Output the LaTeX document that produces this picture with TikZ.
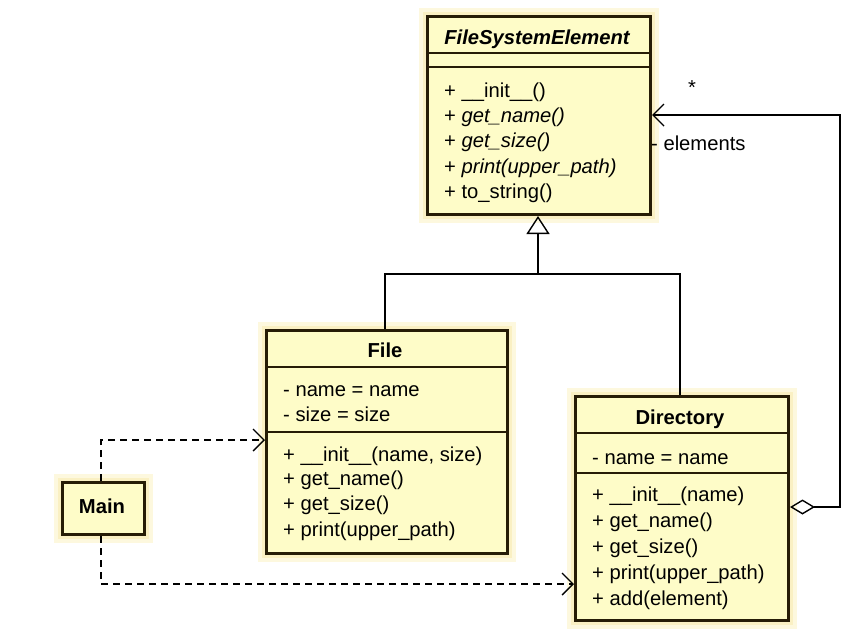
\documentclass[tikz,border=0pt]{standalone}
\usepackage{fontspec}
\setmainfont{Liberation Sans}
\usetikzlibrary{arrows.meta}
\definecolor{boxfill}{RGB}{254,252,200}
\definecolor{boxglow}{RGB}{253,248,222}
\definecolor{boxglowin}{RGB}{250,240,195}
\definecolor{boxline}{RGB}{38,28,6}
\tikzset{
  umlbox/.style={draw=boxline, line width=3pt, fill=boxfill, inner sep=0pt, anchor=north west,
    preaction={draw=boxglow, line width=17pt},
    preaction={draw=boxglowin, line width=9pt}},
  sepline/.style={draw=boxline, line width=1.4pt},
  member/.style={anchor=west, inner sep=0pt, text height=14pt, text depth=0pt, font=\fontsize{20.2pt}{22pt}\selectfont},
  title/.style={anchor=center, inner sep=0pt, text height=14pt, text depth=0pt, font=\fontsize{20.2pt}{22pt}\selectfont\bfseries},
  conn/.style={draw=black, line width=1.4pt},
  dep/.style={conn, dash pattern=on 7pt off 5pt, -{Straight Barb[length=11pt, width=22pt, line width=1.4pt]}},
  assoc/.style={conn, {Diamond[open, length=25pt, width=15pt, line width=1.4pt]}-{Straight Barb[length=11pt, width=22pt, line width=1.4pt]}},
  inherit/.style={conn, -{Triangle[open, length=18pt, width=23pt, line width=1.4pt]}},
  lbl/.style={inner sep=0pt, font=\fontsize{20.2pt}{22pt}\selectfont}
}
\begin{document}
\begin{tikzpicture}[x=1pt, y=-1pt]
\useasboundingbox (0,0) rectangle (862,633);

% FileSystemElement
\node[umlbox, minimum width=223pt, minimum height=198pt] (fse) at (426,15) {};
\draw[sepline] (fse.west |- 0,53) -- (fse.east |- 0,53);
\draw[sepline] (fse.west |- 0,67) -- (fse.east |- 0,67);
\node[title, font=\fontsize{20.2pt}{22pt}\selectfont\bfseries\itshape] (fset) at (537,37) {FileSystemElement};
\node[member] (fsem1) at (444,90) {+ \_\_init\_\_()};
\node[member] (fsem2) at (444,115) {+ \textit{get\_name()}};
\node[member] (fsem3) at (444,140) {+ \textit{get\_size()}};
\node[member] (fsem4) at (444,166) {+ \textit{print(upper\_path)}};
\node[member] (fsem5) at (444,191) {+ to\_string()};

% File
\node[umlbox, minimum width=241pt, minimum height=223pt] (file) at (265,329) {};
\draw[sepline] (file.west |- 0,367) -- (file.east |- 0,367);
\draw[sepline] (file.west |- 0,432) -- (file.east |- 0,432);
\node[title] (filet) at (385,350) {File};
\node[member] (filea1) at (283,389) {- name = name};
\node[member] (filea2) at (283,414) {- size = size};
\node[member] (filem1) at (283,454) {+ \_\_init\_\_(name, size)};
\node[member] (filem2) at (283,478) {+ get\_name()};
\node[member] (filem3) at (283,503) {+ get\_size()};
\node[member] (filem4) at (283,529) {+ print(upper\_path)};

% Directory
\node[umlbox, minimum width=213pt, minimum height=224pt] (dir) at (574,395) {};
\draw[sepline] (dir.west |- 0,433) -- (dir.east |- 0,433);
\draw[sepline] (dir.west |- 0,473) -- (dir.east |- 0,473);
\node[title] (dirt) at (680,417) {Directory};
\node[member] (dira1) at (592,457) {- name = name};
\node[member] (dirm1) at (592,494) {+ \_\_init\_\_(name)};
\node[member] (dirm2) at (592,520) {+ get\_name()};
\node[member] (dirm3) at (592,546) {+ get\_size()};
\node[member] (dirm4) at (592,572) {+ print(upper\_path)};
\node[member] (dirm5) at (592,598) {+ add(element)};

% Main
\node[umlbox, minimum width=82pt, minimum height=52pt] (mainbox) at (61,481) {};
\node[title] (maint) at (102,506) {Main};

% Inheritance
\coordinate (joint) at (538,274);
\draw[inherit] (file.north -| 385,0) |- (joint) -| (fse.south -| 538,0);
\draw[conn] (dir.north -| 680,0) |- (joint);

% Aggregation / association
\coordinate (aggR) at (840,507);
\draw[assoc] (dir.east |- 0,507) -- (aggR) |- (fse.east |- 0,115);
\node[lbl] (mult) at (692,88) {*};
\node[lbl, anchor=west] (role) at (651,143) {- elements};

% Dependencies
\draw[dep] (mainbox.north -| 101,0) |- (file.west |- 0,440);
\draw[dep] (mainbox.south -| 101,0) |- (dir.west |- 0,584);
\end{tikzpicture}
\end{document}
